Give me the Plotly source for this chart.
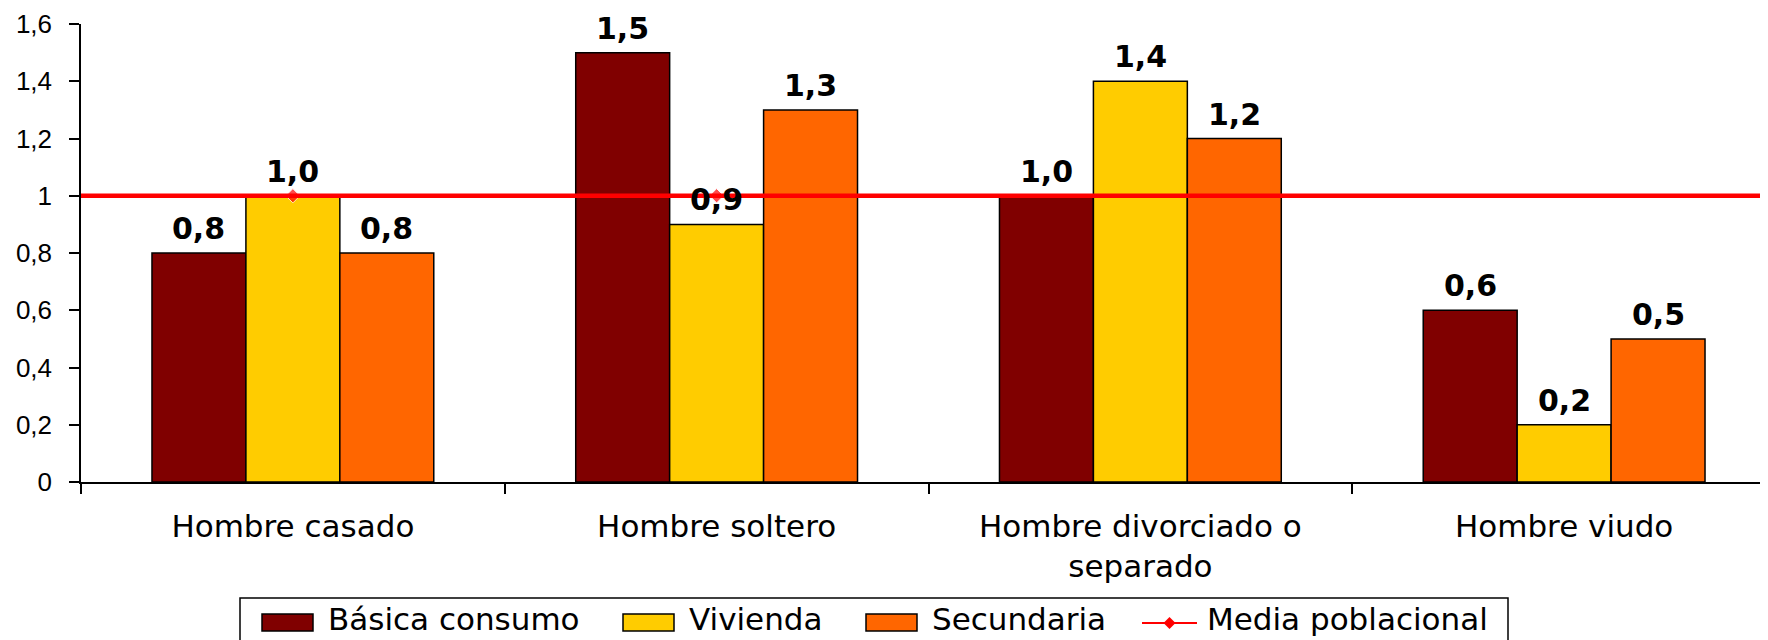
import plotly.graph_objects as go

# ---------------- data ----------------
categories = ["Hombre casado", "Hombre soltero", "Hombre divorciado o<br>separado", "Hombre viudo"]
series_names = ["Básica consumo", "Vivienda", "Secundaria"]
basica = [0.8, 1.5, 1.0, 0.6]
vivienda = [1.0, 0.9, 1.4, 0.2]
secundaria = [0.8, 1.3, 1.2, 0.5]
media_name = "Media poblacional"
media = [1.0, 1.0, 1.0, 1.0]
y_tick_vals = [0, 0.2, 0.4, 0.6, 0.8, 1.0, 1.2, 1.4, 1.6]
y_tick_text = ["0", "0,2", "0,4", "0,6", "0,8", "1", "1,2", "1,4", "1,6"]

# ---------------- style ----------------
colors = ["#800000", "#FFCC00", "#FF6600"]
OFF = 8  # page body margin offset
W, H = 1768, 640
# target plot area in window pixels: left 81, top 24, bottom 482
ML, MR, MT = 81 - OFF, 0, 24 - OFF
MB = H - (482 - OFF)
PW, PH = W - ML - MR, H - MT - MB
BARGAP = 0.335
bar_px = PW / len(categories) * (1 - BARGAP) / 3

def px_x(x):
    return (x - OFF - ML) / PW

def px_y(y):
    return (H - MB - (y - OFF)) / PH

fig = go.Figure()
values = [basica, vivienda, secundaria]
for name, vals, col in zip(series_names, values, colors):
    fig.add_trace(go.Bar(
        name=name, x=categories, y=vals,
        marker=dict(color=col, line=dict(color="black", width=1.5)),
        showlegend=False, hoverinfo="x+y",
    ))

# media poblacional markers (visible ones in reference)
fig.add_trace(go.Scatter(
    name=media_name, x=categories, y=media, mode="markers",
    marker=dict(symbol="diamond", color="#FF0000", size=[11, 11, 0, 0]),
    showlegend=False,
))

# reference line spanning the plot
fig.add_shape(type="line", xref="paper", x0=0, x1=1, yref="y",
              y0=media[0], y1=media[0], line=dict(color="#FF0000", width=4.5), layer="above")

# data labels
label_font = dict(family="DejaVu Sans", size=30, color="black", weight="bold")
for i, vals in enumerate(values):
    for cat, v in zip(categories, vals):
        fig.add_annotation(
            x=cat, y=v, xref="x", yref="y", text=f"{v:.1f}".replace(".", ","),
            showarrow=False, xanchor="center", yanchor="bottom",
            xshift=(i - 1) * bar_px, yshift=5, font=label_font,
        )

# manual legend (Excel style)
leg_font = dict(family="DejaVu Sans", size=31, color="black")
fig.add_shape(type="rect", xref="paper", yref="paper",
              x0=px_x(240), x1=px_x(1508), y0=px_y(598), y1=px_y(670),
              line=dict(color="black", width=1.5), fillcolor="white", layer="above")
swatch_x = [262, 623, 866]
for name, col, sx in zip(series_names, colors, swatch_x):
    fig.add_shape(type="rect", xref="paper", yref="paper",
                  x0=px_x(sx), x1=px_x(sx + 51), y0=px_y(614), y1=px_y(631),
                  line=dict(color="black", width=1.5), fillcolor=col, layer="above")
    fig.add_annotation(xref="paper", yref="paper", x=px_x(sx + 64), y=px_y(619),
                       text=name, showarrow=False, xanchor="left", yanchor="middle",
                       font=leg_font)
mx = 1142
fig.add_shape(type="line", xref="paper", yref="paper",
              x0=px_x(mx), x1=px_x(mx + 55), y0=px_y(623), y1=px_y(623),
              line=dict(color="#FF0000", width=2), layer="above")
fig.add_shape(type="path", xref="paper", yref="paper",
              path=(f"M {px_x(mx + 27.5 - 6)},{px_y(623)} L {px_x(mx + 27.5)},{px_y(617)} "
                    f"L {px_x(mx + 27.5 + 6)},{px_y(623)} L {px_x(mx + 27.5)},{px_y(629)} Z"),
              fillcolor="#FF0000", line=dict(color="#FF0000", width=0), layer="above")
fig.add_annotation(xref="paper", yref="paper", x=px_x(mx + 63), y=px_y(619),
                   text=media_name, showarrow=False, xanchor="left", yanchor="middle",
                   font=leg_font)

n = len(categories)
fig.update_layout(
    width=W, height=H,
    margin=dict(l=ML, r=MR, t=MT, b=MB, pad=0, autoexpand=False),
    paper_bgcolor="white", plot_bgcolor="white",
    barmode="group", bargap=BARGAP, bargroupgap=0,
    separators=",.",
    showlegend=False,
    xaxis=dict(
        type="category", range=[-0.5, n - 0.5], tickson="boundaries", automargin=False,
        ticks="outside", ticklen=10, tickwidth=1.5, tickcolor="black",
        showline=True, linecolor="black", linewidth=1.5, showgrid=False,
        tickfont=dict(family="DejaVu Sans", size=31, color="black"),
        ticklabelstandoff=16,
    ),
    xaxis2=dict(
        overlaying="x", anchor="y", range=[-0.5, n - 0.5], automargin=False,
        tickvals=[k - 0.5 for k in range(n + 1)],
        ticks="inside", ticklen=10, tickwidth=1.5, tickcolor="black",
        showticklabels=False, showline=False, showgrid=False, zeroline=False,
    ),
    yaxis=dict(
        range=[0, 1.6], tickvals=y_tick_vals, ticktext=y_tick_text, automargin=False,
        ticks="outside", ticklen=10, tickwidth=1.5, tickcolor="black",
        showline=True, linecolor="black", linewidth=1.5, showgrid=False, zeroline=False,
        tickfont=dict(family="Liberation Sans", size=26, color="black"),
        ticklabelstandoff=12,
    ),
    yaxis2=dict(
        overlaying="y", anchor="x", side="left", range=[0, 1.6], tickvals=y_tick_vals,
        automargin=False,
        ticks="inside", ticklen=10, tickwidth=1.5, tickcolor="black",
        showticklabels=False, showline=False, showgrid=False, zeroline=False,
    ),
)

fig.write_html("out.html")
